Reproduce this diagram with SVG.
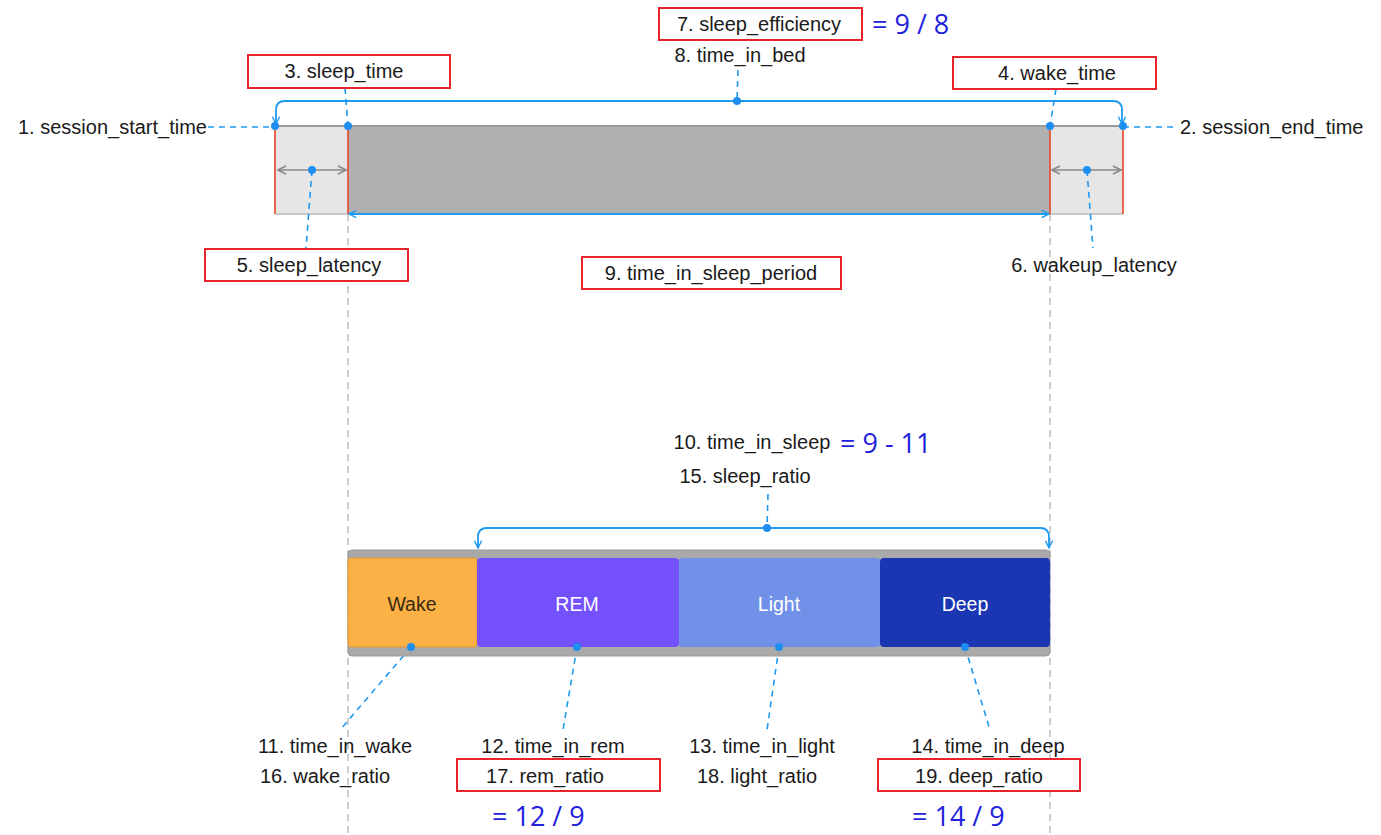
<svg xmlns="http://www.w3.org/2000/svg" width="1381" height="835" viewBox="0 0 1381 835">
<style>
.t{font-family:"Liberation Sans",Arial,sans-serif;font-size:20px;fill:#1a1a1a}
.c{text-anchor:middle}
.f{font-family:"Open Sans","Noto Sans",sans-serif;font-size:27px;fill:#2222dd}
.box{fill:#fff;stroke:#e8232b;stroke-width:2}
.dash{stroke:#1e9af0;stroke-width:1.6;stroke-dasharray:6 5;fill:none}
.blue{stroke:#1e9af0;stroke-width:1.8;fill:none}
.dot{fill:#1e8ef0}
.vg{stroke:#bdbdbd;stroke-width:1.5;stroke-dasharray:7 5}
.red{stroke:#e5553a;stroke-width:1.8}
.seg{font-family:"Liberation Sans",Arial,sans-serif;font-size:19.5px;text-anchor:middle}
</style>
<defs>
<marker id="ab" viewBox="0 0 10 10" refX="9" refY="5" markerWidth="9" markerHeight="9" orient="auto-start-reverse" markerUnits="userSpaceOnUse">
<path d="M1,1 L9,5 L1,9" fill="none" stroke="#1e9af0" stroke-width="1.6"/>
</marker>
<marker id="ag" viewBox="0 0 10 10" refX="9" refY="5" markerWidth="10" markerHeight="10" orient="auto-start-reverse" markerUnits="userSpaceOnUse">
<path d="M1,1 L9,5 L1,9" fill="none" stroke="#8a8a8a" stroke-width="1.6"/>
</marker>
</defs>
<rect width="1381" height="835" fill="#fff"/>

<g id="guides">
<line class="vg" x1="348" y1="214" x2="348" y2="835"/>
<line class="vg" x1="1050" y1="214" x2="1050" y2="835"/>
</g>

<g id="top-bar">
<rect x="275" y="126" width="848" height="88" fill="#e6e6e6"/>
<rect x="348" y="126" width="702" height="88" fill="#b0b0b0"/>
<line x1="275" y1="126" x2="1123" y2="126" stroke="#9a9a9a" stroke-width="2"/>
<line x1="275" y1="214" x2="1123" y2="214" stroke="#b8b8b8" stroke-width="1.5"/>
<line class="red" x1="275" y1="126" x2="275" y2="214"/>
<line class="red" x1="348" y1="126" x2="348" y2="214"/>
<line class="red" x1="1050" y1="126" x2="1050" y2="214"/>
<line class="red" x1="1123" y1="126" x2="1123" y2="214"/>
</g>

<g id="connectors">
<path class="blue" d="M276,124 V110 Q276,101 285,101 H1113 Q1122,101 1122,110 V124" marker-start="url(#ab)" marker-end="url(#ab)"/>
<line class="blue" x1="349" y1="214" x2="1049" y2="214" marker-start="url(#ab)" marker-end="url(#ab)"/>
<line x1="278" y1="170" x2="346" y2="170" stroke="#8a8a8a" stroke-width="1.6" marker-start="url(#ag)" marker-end="url(#ag)"/>
<line x1="1052" y1="170" x2="1121" y2="170" stroke="#8a8a8a" stroke-width="1.6" marker-start="url(#ag)" marker-end="url(#ag)"/>
<line class="dash" x1="208" y1="127" x2="275" y2="127"/>
<line class="dash" x1="1123" y1="127" x2="1178" y2="127"/>
<line class="dash" x1="345" y1="88" x2="348" y2="126"/>
<line class="dash" x1="1056" y1="89" x2="1050" y2="126"/>
<line class="dash" x1="738" y1="70" x2="737" y2="101"/>
<line class="dash" x1="312" y1="170" x2="306" y2="248"/>
<line class="dash" x1="1087" y1="170" x2="1093" y2="248"/>
<path class="blue" d="M478,548 V537 Q478,528 487,528 H1040 Q1049,528 1049,537 V548" marker-start="url(#ab)" marker-end="url(#ab)"/>
<line class="dash" x1="768" y1="494" x2="767" y2="528"/>
<line class="dash" x1="411" y1="647" x2="340" y2="730"/>
<line class="dash" x1="577" y1="647" x2="563" y2="730"/>
<line class="dash" x1="779" y1="647" x2="767" y2="730"/>
<line class="dash" x1="965" y1="647" x2="990" y2="730"/>
<circle class="dot" cx="275" cy="126" r="4"/>
<circle class="dot" cx="348" cy="126" r="4"/>
<circle class="dot" cx="1050" cy="126" r="4"/>
<circle class="dot" cx="1123" cy="126" r="4"/>
<circle class="dot" cx="737" cy="101" r="4"/>
<circle class="dot" cx="312" cy="170" r="4"/>
<circle class="dot" cx="1087" cy="170" r="4"/>
<circle class="dot" cx="767" cy="528" r="4"/>
</g>

<g id="n1"><text class="t" x="18" y="134">1. session_start_time</text></g>
<g id="n2"><text class="t" x="1180" y="134">2. session_end_time</text></g>
<g id="n3"><rect class="box" x="248" y="55" width="202" height="33"/><text class="t c" x="344" y="78">3. sleep_time</text></g>
<g id="n4"><rect class="box" x="953" y="57" width="203" height="32"/><text class="t c" x="1057" y="80">4. wake_time</text></g>
<g id="n5"><rect class="box" x="205" y="249" width="203" height="32"/><text class="t c" x="309" y="272">5. sleep_latency</text></g>
<g id="n6"><text class="t c" x="1094" y="272">6. wakeup_latency</text></g>
<g id="n7"><rect class="box" x="659" y="8" width="203" height="32"/><text class="t c" x="759" y="31">7. sleep_efficiency</text><text class="f" x="872" y="34">= 9 / 8</text></g>
<g id="n8"><text class="t c" x="740" y="62">8. time_in_bed</text></g>
<g id="n9"><rect class="box" x="582" y="257" width="259" height="32"/><text class="t c" x="711" y="280">9. time_in_sleep_period</text></g>

<g id="bottom-bar">
<rect x="348" y="550" width="702" height="106" rx="4" fill="#a9a9a9" stroke="#9a9a9a" stroke-width="1"/>
</g>
<g id="wake"><rect x="348" y="558" width="129" height="89" rx="3" fill="#fbb146" stroke="#e39a35" stroke-width="1"/><text class="seg" x="412" y="611" fill="#3a2a10">Wake</text></g>
<g id="rem"><rect x="477" y="558" width="202" height="89" rx="4" fill="#7551fd"/><text class="seg" x="577" y="611" fill="#fff">REM</text></g>
<g id="light"><rect x="679" y="558" width="201" height="89" rx="3" fill="#7190e8"/><text class="seg" x="779" y="611" fill="#fff">Light</text></g>
<g id="deep"><rect x="880" y="558" width="170" height="89" rx="4" fill="#1b36b3"/><text class="seg" x="965" y="611" fill="#fff">Deep</text></g>
<g id="seg-dots">
<circle class="dot" cx="411" cy="647" r="4"/>
<circle class="dot" cx="577" cy="647" r="4"/>
<circle class="dot" cx="779" cy="647" r="4"/>
<circle class="dot" cx="965" cy="647" r="4"/>
</g>

<g id="n10"><text class="t c" x="752" y="449">10. time_in_sleep</text><text class="f" x="840" y="453">= 9 - 11</text></g>
<g id="n15"><text class="t c" x="745" y="483">15. sleep_ratio</text></g>
<g id="n11"><text class="t c" x="335" y="753">11. time_in_wake</text></g>
<g id="n16"><text class="t c" x="325" y="783">16. wake_ratio</text></g>
<g id="n12"><text class="t c" x="553" y="753">12. time_in_rem</text></g>
<g id="n17"><rect class="box" x="457" y="759" width="203" height="32"/><text class="t c" x="545" y="783">17. rem_ratio</text><text class="f" x="492" y="826">= 12 / 9</text></g>
<g id="n13"><text class="t c" x="762" y="753">13. time_in_light</text></g>
<g id="n18"><text class="t c" x="757" y="783">18. light_ratio</text></g>
<g id="n14"><text class="t c" x="988" y="753">14. time_in_deep</text></g>
<g id="n19"><rect class="box" x="878" y="759" width="202" height="32"/><text class="t c" x="979" y="783">19. deep_ratio</text><text class="f" x="912" y="826">= 14 / 9</text></g>
</svg>
